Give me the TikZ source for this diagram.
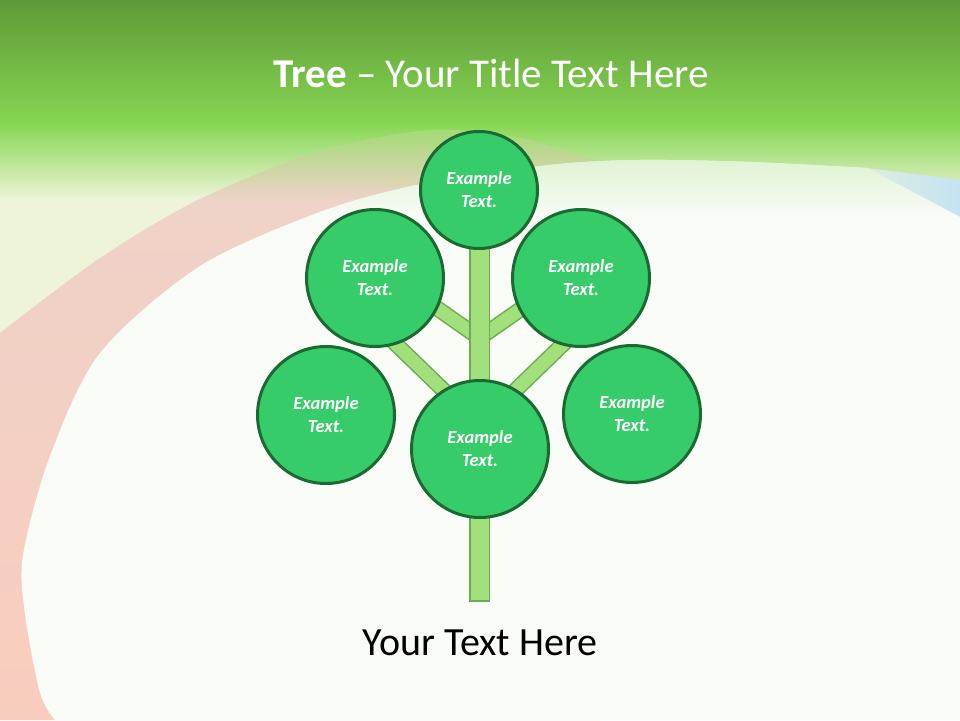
\documentclass[tikz,border=0pt]{standalone}
\usepackage{fontspec}
\setmainfont{Carlito}
\definecolor{bannertop}{HTML}{5E9A38}
\definecolor{bannerbot}{HTML}{86D652}
\definecolor{paleband}{HTML}{EEF4D8}
\definecolor{pagebg}{HTML}{F8FBF6}
\definecolor{blush}{HTML}{EFD2C8}
\definecolor{salmon}{HTML}{F9CDBE}
\definecolor{skyband}{HTML}{C5E3F2}
\definecolor{leaffill}{HTML}{36CC6A}
\definecolor{leafline}{HTML}{1B6A31}
\definecolor{stemfill}{HTML}{A2E07C}
\definecolor{stemline}{HTML}{6DAA53}

\begin{document}
\begin{tikzpicture}[x=1pt, y=-1pt,
    leaf/.style={circle, draw=leafline, line width=3pt, fill=leaffill, inner sep=0pt, text=white, align=center, font=\fontsize{18.5}{23}\selectfont\bfseries\itshape},
    branch/.style={draw=stemline, line width=1.5pt, double=stemfill, double distance=13pt}]
    \useasboundingbox (0,0) rectangle (960,720);
    % background
    \fill[paleband] (0,0) rectangle (960,720);
    \shade[top color=bannertop, bottom color=bannerbot] (0,0) rectangle (960,124);
    \shade[top color=bannerbot, bottom color=paleband] (0,123) rectangle (960,200);
    \begin{scope}
        \clip (0,720) -- plot[smooth] coordinates {(0,333) (100,258) (200,199) (320,151) (430,130) (520,138) (600,162)} -- (600,720) -- cycle;
        \shade[top color=blush, bottom color=salmon] (0,199) rectangle (600,720);
        \shade[top color=bannerbot!80!paleband, bottom color=blush] (0,122) rectangle (600,200);
    \end{scope}
    \shade[left color=skyband!40!paleband, right color=skyband] (867,168) -- (960,180) -- (960,217) -- cycle;
    \fill[pagebg] (960,720) -- plot[smooth] coordinates {(55,720) (40,693) (25,614) (23,555) (50,456) (100,353) (200,266) (320,212) (417,185) (550,165) (640,160) (750,162) (867,168)} -- (960,217) -- cycle;
    \begin{scope}
        \clip (960,720) -- plot[smooth] coordinates {(55,720) (40,693) (25,614) (23,555) (50,456) (100,353) (200,266) (320,212) (417,185) (550,165) (640,160) (750,162) (867,168)} -- (960,217) -- cycle;
        \shade[top color=bannerbot!25!pagebg, bottom color=pagebg] (0,150) rectangle (960,215);
    \end{scope}
    % trunk and branches
    \coordinate (forkhi) at (479.5,338);
    \coordinate (forklo) at (479.5,425);
    \coordinate (budul) at (399.5,282);
    \coordinate (budur) at (559.5,282);
    \coordinate (budll) at (372,321);
    \coordinate (budlr) at (587,321);
    \draw[branch] (forkhi) -- (budul);
    \draw[branch] (forkhi) -- (budur);
    \draw[branch] (forklo) -- (budll);
    \draw[branch] (forklo) -- (budlr);
    \node (stem) [rectangle, draw=stemline, line width=1.5pt, fill=stemfill, minimum width=19.5pt, minimum height=354.5pt, inner sep=0pt] at (479.5,423.5) {};
    % leaves
    \node (crown) [leaf, minimum size=117pt] at (479,190) {Example\\Text.};
    \node (upleft) [leaf, minimum size=137pt] at (375,278) {Example\\Text.};
    \node (upright) [leaf, minimum size=137pt] at (581,278) {Example\\Text.};
    \node (lowleft) [leaf, minimum size=137pt] at (326,415) {Example\\Text.};
    \node (lowright) [leaf, minimum size=137pt] at (632,414) {Example\\Text.};
    \node (heart) [leaf, minimum size=137pt] at (480,449) {Example\\Text.};
    % titles
    \node (title) [anchor=base, text=white, font=\fontsize{41}{48}\selectfont] at (491,87) {\textbf{Tree} – Your Title Text Here};
    \node (caption) [anchor=base, text=black, font=\fontsize{40}{46}\selectfont] at (480,655) {Your Text Here};
\end{tikzpicture}
\end{document}
